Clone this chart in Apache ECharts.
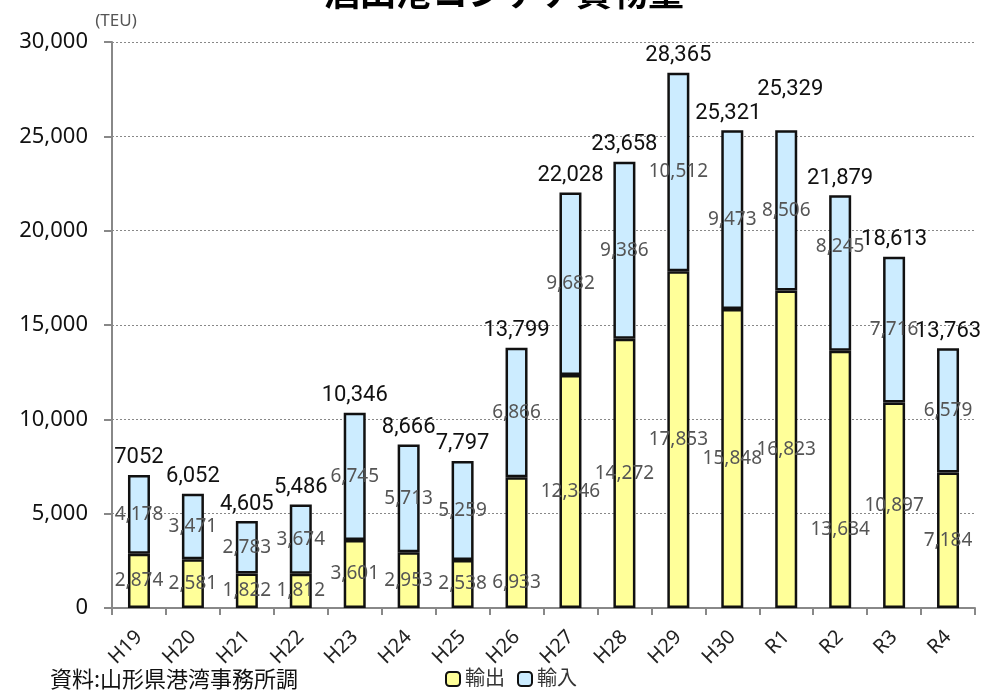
<!DOCTYPE html>
<html>
<head>
<meta charset="utf-8">
<script src="https://cdn.jsdelivr.net/npm/echarts@6/dist/echarts.min.js"></script>
<style>
  html, body { margin: 0; padding: 0; background: #fff; }
  #chart { width: 1008px; height: 696px; }
</style>
</head>
<body>
<div id="chart"></div>
<script>
// 年度
var years = ['H19', 'H20', 'H21', 'H22', 'H23', 'H24', 'H25', 'H26', 'H27', 'H28', 'H29', 'H30', 'R1', 'R2', 'R3', 'R4']
// 輸出 (TEU)
var exportTeu = [2874, 2581, 1822, 1812, 3601, 2953, 2538, 6933, 12346, 14272, 17853, 15848, 16823, 13634, 10897, 7184]
// 輸入 (TEU)
var importTeu = [4178, 3471, 2783, 3674, 6745, 5713, 5259, 6866, 9682, 9386, 10512, 9473, 8506, 8245, 7716, 6579]
// 合計ラベル（元の図の表記のまま）
var totalLabels = ['7052', '6,052', '4,605', '5,486', '10,346', '8,666', '7,797', '13,799', '22,028', '23,658', '28,365', '25,321', '25,329', '21,879', '18,613', '13,763']
var yTicks = [0, 5000, 10000, 15000, 20000, 25000, 30000]

var font = '"Noto Sans", "Noto Sans CJK JP", sans-serif'
var numFont = 'Roboto, "Noto Sans", sans-serif'
var chart = echarts.init(document.getElementById('chart'))

function fmt(v) {
  return v.toLocaleString('en-US')
}

// 一部ラベルは元の図で手動で位置がずらされている
var exportShift = { 7: [0, 40], 13: [0, 50] }
var importShift = { 13: [0, -26] }
var totalShift = { 11: [-4, 0], 12: [4, -24] }

function withShift(values, shift) {
  return values.map(function(v, i) {
    var item = { value: v }
    if (shift[i]) item.label = { offset: shift[i] }
    return item
  })
}

var innerLabel = {
  show: true,
  position: 'inside',
  color: '#555',
  fontSize: 19,
  fontFamily: font,
  formatter: function(p) { return fmt(p.value) }
}

chart.setOption({
  animation: false,
  title: {
    text: '酒田港コンテナ貨物量',
    left: 'center',
    top: -27,
    textStyle: { fontSize: 36, fontWeight: 'bold', color: '#000', fontFamily: font }
  },
  graphic: [
    {
      type: 'text',
      left: 50,
      top: 668,
      style: { text: '資料:山形県港湾事務所調', fontSize: 22, fontFamily: '"Noto Sans CJK JP", sans-serif', fill: '#111' }
    }
  ],
  legend: {
    bottom: 2,
    left: 440,
    itemWidth: 14,
    itemHeight: 14,
    itemGap: 12,
    textStyle: { fontSize: 20, color: '#333', fontFamily: font },
    data: ['輸出', '輸入']
  },
  grid: { left: 112, right: 33, top: 42, bottom: 88 },
  xAxis: {
    type: 'category',
    data: years,
    axisLine: { lineStyle: { color: '#888', width: 2 } },
    axisTick: { show: true, alignWithLabel: false, length: 7, lineStyle: { color: '#888', width: 2 } },
    axisLabel: { rotate: 45, fontSize: 20, color: '#222', fontFamily: font, margin: 26 }
  },
  yAxis: {
    type: 'value',
    name: '(TEU)',
    nameLocation: 'end',
    nameGap: 12,
    nameTextStyle: { fontSize: 17, color: '#555', fontFamily: font, padding: [0, 0, 0, 8] },
    min: yTicks[0],
    max: yTicks[yTicks.length - 1],
    interval: 5000,
    axisLine: { show: true, lineStyle: { color: '#888', width: 2 } },
    axisTick: { show: true, length: 8, lineStyle: { color: '#888', width: 2 } },
    axisLabel: { fontSize: 22, color: '#111', fontFamily: font, margin: 24, formatter: function(v) { return fmt(v) } },
    splitLine: { lineStyle: { color: '#888', type: [2, 2], width: 1 } }
  },
  series: [
    {
      name: '輸出',
      type: 'bar',
      stack: 'teu',
      barWidth: 22,
      data: withShift(exportTeu, exportShift),
      itemStyle: { color: '#FFFF99', borderColor: '#111', borderWidth: 2.5 },
      label: innerLabel
    },
    {
      name: '輸入',
      type: 'bar',
      stack: 'teu',
      barWidth: 22,
      data: withShift(importTeu, importShift),
      itemStyle: { color: '#CCECFF', borderColor: '#111', borderWidth: 2.5 },
      label: innerLabel
    },
    {
      // 合計ラベル用（値ゼロの積み上げで最上部に置く）
      name: '合計',
      type: 'bar',
      stack: 'teu',
      barWidth: 22,
      data: withShift(years.map(function() { return 0 }), totalShift),
      itemStyle: { color: 'transparent' },
      label: {
        show: true,
        position: 'top',
        distance: 6,
        color: '#111',
        fontSize: 22,
        fontFamily: numFont,
        formatter: function(p) { return totalLabels[p.dataIndex] }
      },
      silent: true
    }
  ]
})
</script>
</body>
</html>
